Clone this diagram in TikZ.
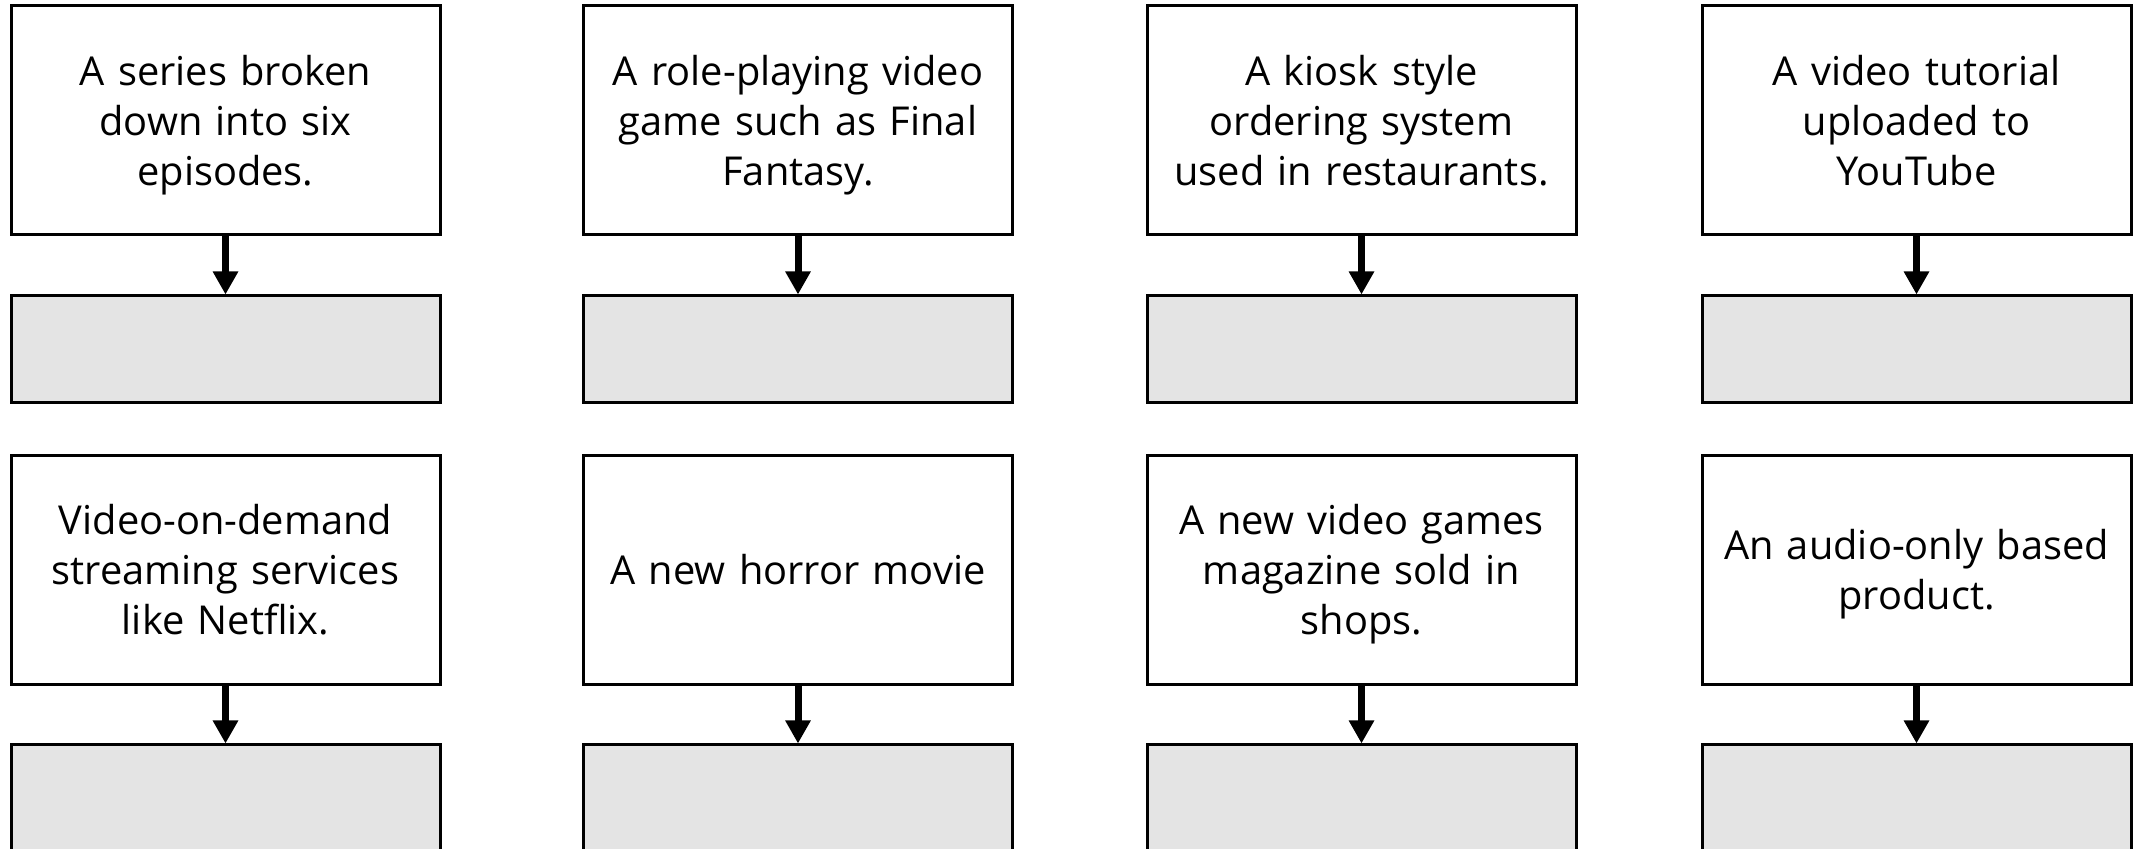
\documentclass[tikz,border=0pt]{standalone}
\usepackage{fontspec}
\setmainfont{Open Sans}
\usetikzlibrary{arrows.meta}
\definecolor{answergray}{HTML}{E4E4E4}

\tikzset{
  prompt/.style={draw, line width=1.5pt, fill=white, minimum width=214.5pt,
    minimum height=114.5pt, text width=206pt, align=center, inner sep=0pt,
    font=\fontsize{19.9pt}{25pt}\selectfont,
    execute at begin node={\rule{0pt}{20pt}},
    execute at end node={\rule[-5pt]{0pt}{5pt}}},
  answer/.style={draw, line width=1.5pt, fill=answergray, minimum width=214.5pt,
    minimum height=53.5pt, inner sep=0pt},
  down/.style={line width=3.5pt, -{Triangle[length=11.5pt,width=12pt]}}
}

\begin{document}
\begin{tikzpicture}[x=0.5pt,y=-0.5pt]
	\useasboundingbox (0,0) rectangle (2133,849);

	% top row
	\node[prompt] (t1) at (225.5,120.5) {A series broken\\down into six\\episodes.};
	\node[prompt] (t2) at (798,120.5) {A role-playing video\\game such as Final\\Fantasy.};
	\node[prompt] (t3) at (1361.5,120.5) {A kiosk style\\ordering system\\used in restaurants.};
	\node[prompt] (t4) at (1916.5,120.5) {A video tutorial\\uploaded to\\YouTube};
	\node[answer] (a1) at (225.5,349.5) {};
	\node[answer] (a2) at (798,349.5) {};
	\node[answer] (a3) at (1361.5,349.5) {};
	\node[answer] (a4) at (1916.5,349.5) {};

	% bottom row
	\node[prompt] (t5) at (225.5,570) {Video-on-demand\\streaming services\\like Netflix.};
	\node[prompt] (t6) at (798,570) {A new horror movie};
	\node[prompt] (t7) at (1361.5,570) {A new video games\\magazine sold in\\shops.};
	\node[prompt] (t8) at (1916.5,570) {An audio-only based\\product.};
	\node[answer] (a5) at (225.5,798.5) {};
	\node[answer] (a6) at (798,798.5) {};
	\node[answer] (a7) at (1361.5,798.5) {};
	\node[answer] (a8) at (1916.5,798.5) {};

	\foreach \i in {1,...,8}
		\draw[down] (t\i.south) -- (a\i.north);
\end{tikzpicture}
\end{document}
